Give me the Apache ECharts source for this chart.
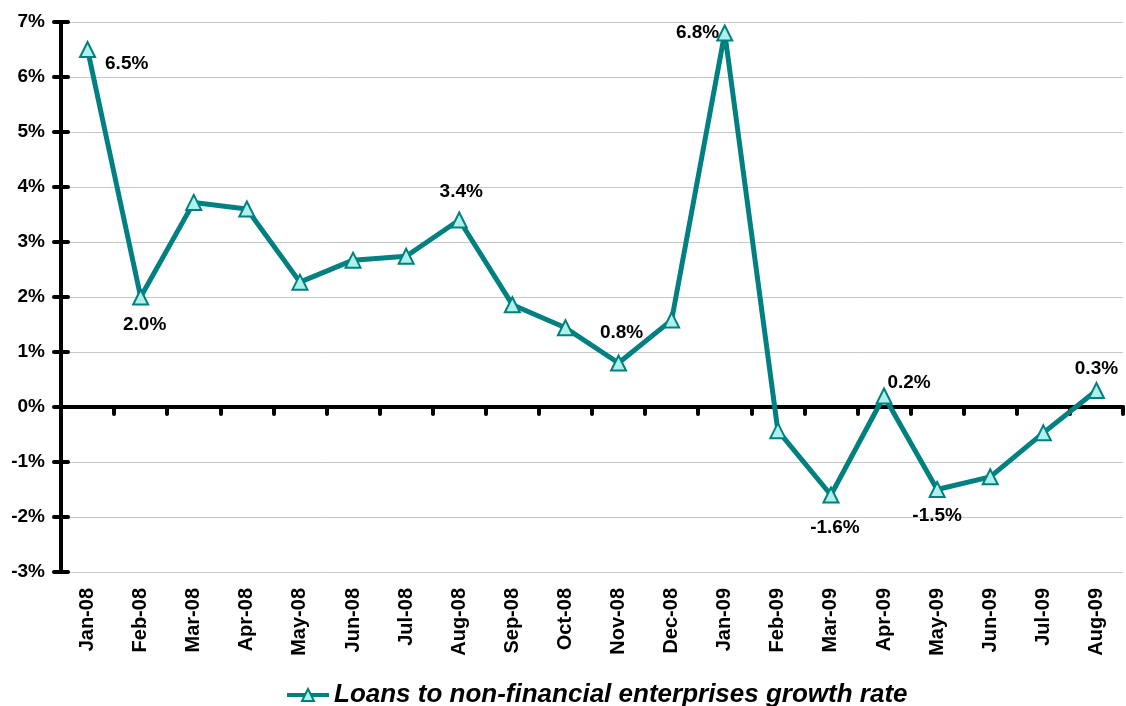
<!DOCTYPE html>
<html>
<head>
<meta charset="utf-8">
<script src="https://cdn.jsdelivr.net/npm/echarts@6/dist/echarts.min.js"></script>
<style>
  html, body { margin: 0; padding: 0; background: #fff; }
  #chart { width: 1126px; height: 706px; }
</style>
</head>
<body>
<div id="chart"></div>
<script>
// Monthly growth rate of loans to non-financial enterprises (%)
const months = ['Jan-08','Feb-08','Mar-08','Apr-08','May-08','Jun-08','Jul-08','Aug-08','Sep-08','Oct-08','Nov-08','Dec-08',
                'Jan-09','Feb-09','Mar-09','Apr-09','May-09','Jun-09','Jul-09','Aug-09'];
const growthRate = [6.5, 2.0, 3.72, 3.6, 2.27, 2.67, 2.74, 3.4, 1.86, 1.44, 0.8, 1.58,
                    6.8, -0.43, -1.6, 0.2, -1.5, -1.27, -0.47, 0.3];
// Value-axis tick positions (%)
const yTicks = [-3, -2, -1, 0, 1, 2, 3, 4, 5, 6, 7];
// Months whose value is printed next to the marker, with label placement
const labelled = {
  'Jan-08': { position: 'right',  distance: 9,  offset: [0, 14] },
  'Feb-08': { position: 'bottom', distance: 10, offset: [4, 0] },
  'Aug-08': { position: 'top',    distance: 10, offset: [2, 0] },
  'Nov-08': { position: 'top',    distance: 12, offset: [3, 0] },
  'Jan-09': { position: 'left',   distance: -3, offset: [0, 0] },
  'Mar-09': { position: 'bottom', distance: 15, offset: [4, 0] },
  'Apr-09': { position: 'top',    distance: 0,  offset: [25, 5] },
  'May-09': { position: 'bottom', distance: 8,  offset: [0, 0] },
  'Aug-09': { position: 'top',    distance: 4,  offset: [0, 0] }
};
const seriesName = 'Loans to non-financial enterprises growth rate';

const teal = '#008080';
const fillCyan = '#aef0ea';
const font = '"Liberation Sans", Arial, sans-serif';

const points = growthRate.map((v, i) => {
  const cfg = labelled[months[i]];
  const item = { value: v };
  if (cfg) {
    item.label = Object.assign({ show: true }, cfg);
  }
  return item;
});

const chart = echarts.init(document.getElementById('chart'));
chart.setOption({
  animation: false,
  textStyle: { fontFamily: font },
  grid: { left: 61, right: 3, top: 22, bottom: 134, containLabel: false },
  legend: {
    data: [seriesName],
    left: 280,
    top: 677,
    itemWidth: 42,
    itemHeight: 15,
    itemGap: 6,
    lineStyle: { width: 4 },
    textStyle: { fontFamily: font, fontSize: 26, fontWeight: 'bold', fontStyle: 'italic', color: '#000' }
  },
  xAxis: [
    {
      type: 'category',
      data: months,
      position: 'bottom',
      axisLine: { show: false, onZero: false },
      axisTick: { show: false },
      axisLabel: { rotate: 90, margin: 16, fontSize: 20, fontWeight: 'bold', color: '#000', fontFamily: font, interval: 0 },
      splitLine: { show: false }
    },
    {
      type: 'category',
      data: months,
      position: 'bottom',
      axisLine: { show: true, onZero: true, lineStyle: { color: '#000', width: 4 } },
      axisTick: { show: true, length: 7, lineStyle: { color: '#000', width: 4, cap: 'round' } },
      axisLabel: { show: false },
      splitLine: { show: false }
    }
  ],
  yAxis: {
    type: 'value',
    min: -3,
    max: 7,
    interval: 1,
    axisLine: { show: true, lineStyle: { color: '#000', width: 4 } },
    axisTick: { show: false },
    axisLabel: { formatter: '{value}%', margin: 16, fontSize: 19, fontWeight: 'bold', color: '#000', fontFamily: font },
    splitLine: { show: true, lineStyle: { color: '#c8c8c8', width: 1 } }
  },
  series: [
    {
      // tick marks crossing the value axis line
      type: 'custom',
      xAxisIndex: 0,
      yAxisIndex: 0,
      silent: true,
      clip: false,
      data: yTicks.map(v => [0, v]),
      renderItem: (params, api) => {
        const c = api.coord([api.value(0), api.value(1)]);
        const band = api.size([1, 0])[0];
        const x = c[0] - band / 2;
        return {
          type: 'line',
          shape: { x1: x - 7, y1: c[1], x2: x + 7, y2: c[1] },
          style: { stroke: '#000', lineWidth: 4, lineCap: 'round' },
          z2: 10
        };
      },
      z: 6
    },
    {
      name: seriesName,
      type: 'line',
      xAxisIndex: 0,
      yAxisIndex: 0,
      data: points,
      symbol: 'triangle',
      symbolSize: 15,
      showAllSymbol: true,
      lineStyle: { color: teal, width: 5 },
      itemStyle: { color: fillCyan, borderColor: teal, borderWidth: 2 },
      label: {
        show: false,
        formatter: p => p.value.toFixed(1) + '%',
        fontSize: 19,
        fontWeight: 'bold',
        color: '#000',
        fontFamily: font
      },
      z: 5
    }
  ]
});
</script>
</body>
</html>
